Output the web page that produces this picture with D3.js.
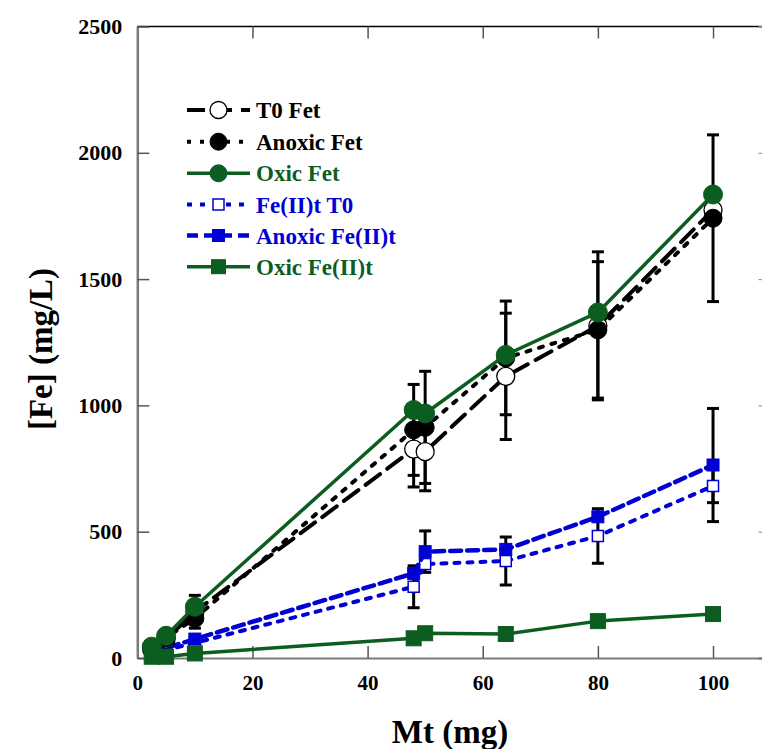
<!DOCTYPE html>
<html>
<head>
<meta charset="utf-8">
<script src="https://cdn.jsdelivr.net/npm/d3@7"></script>
<style>
  html, body { margin: 0; padding: 0; background: #fff; }
  svg { display: block; }
</style>
</head>
<body>
<svg id="chart" width="762" height="749"></svg>
<script>
// ---- data ----
const mt = [2.5, 5, 10, 48, 50, 64, 80, 100];

const t0Fet       = [35, 75, 183, 827, 817, 1115, 1315, 1774];
const t0FetErr    = [null, null, 65, 150, 155, 250, 293, null];
const anoxicFet   = [40, 80, 157, 903, 913, 1188, 1299, 1741];
const anoxicFetErr= [null, null, null, 180, 222, 225, 270, 330];
const oxicFet     = [45, 88, 203, 982, 968, 1200, 1368, 1835];

const t0Fe2       = [20, 32, 60, 282, 372, 384, 483, 681];
const t0Fe2Err    = [null, null, null, 83, null, 95, 108, 66];
const anoxicFe2   = [25, 40, 75, 335, 421, 430, 559, 764];
const anoxicFe2Err= [null, null, null, null, 82, null, null, 224];
const oxicFe2     = [5, 5, 18, 78, 98, 95, 146, 174];

const xTicks = [0, 20, 40, 60, 80, 100];
const yTicks = [0, 500, 1000, 1500, 2000, 2500];

const seriesNames = ["T0 Fet", "Anoxic Fet", "Oxic Fet", "Fe(II)t T0", "Anoxic Fe(II)t", "Oxic Fe(II)t"];

// ---- styling ----
const GREEN = "#0b5e1f";
const BLUE = "#0000d4";
const FONT = "Liberation Serif";

const series = [
  { name: seriesNames[0], y: t0Fet, err: t0FetErr, color: "#000", textColor: "#000", width: 4, dash: "18,9", marker: "circle", fill: "#fff", stroke: "#000", size: 9 },
  { name: seriesNames[1], y: anoxicFet, err: anoxicFetErr, color: "#000", textColor: "#000", width: 4, dash: "4,9", marker: "circle", fill: "#000", stroke: "#000", size: 9 },
  { name: seriesNames[2], y: oxicFet, err: null, color: GREEN, textColor: GREEN, width: 3.5, dash: null, marker: "circle", fill: GREEN, stroke: GREEN, size: 9.5 },
  { name: seriesNames[3], y: t0Fe2, err: t0Fe2Err, color: BLUE, textColor: BLUE, width: 4, dash: "5,8", marker: "square", fill: "#fff", stroke: BLUE, size: 11 },
  { name: seriesNames[4], y: anoxicFe2, err: anoxicFe2Err, color: BLUE, textColor: BLUE, width: 4.5, dash: "11,6", marker: "square", fill: BLUE, stroke: BLUE, size: 12 },
  { name: seriesNames[5], y: oxicFe2, err: null, color: GREEN, textColor: GREEN, width: 3.5, dash: null, marker: "square", fill: GREEN, stroke: GREEN, size: 15 }
];

const svg = d3.select("#chart");
const x = d3.scaleLinear().domain([0, 110]).range([137.3, 770.6]);
const y = d3.scaleLinear().domain([0, 2500]).range([658, 26.5]);

// frame: top line
svg.append("line").attr("x1", x(0)).attr("x2", 762).attr("y1", y(2500)).attr("y2", y(2500))
  .attr("stroke", "#000").attr("stroke-width", 1.5);

// top ticks
svg.append("g").attr("transform", `translate(0,${y(2500)})`)
  .call(d3.axisTop(x).tickValues(xTicks).tickSize(-12).tickFormat(""))
  .call(g => g.select(".domain").remove())
  .call(g => g.selectAll("line").attr("stroke", "#555").attr("stroke-width", 1.5));

// right ticks (axis line off canvas)
svg.append("g").attr("transform", `translate(${x(110)},0)`)
  .call(d3.axisRight(y).tickValues(yTicks).tickSize(-12).tickFormat(""))
  .call(g => g.select(".domain").attr("stroke", "#777").attr("stroke-width", 2))
  .call(g => g.selectAll("line").attr("stroke", "#999").attr("stroke-width", 1.2));

// bottom axis
const xAxis = svg.append("g").attr("transform", `translate(0,${y(0)})`)
  .call(d3.axisBottom(x).tickValues(xTicks).tickFormat(d3.format("d")).tickSize(-12).tickPadding(17).tickSizeOuter(0));
xAxis.attr("font-family", FONT).attr("font-weight", "bold").attr("font-size", 21);
xAxis.select(".domain").attr("stroke", "#7a7a7a").attr("stroke-width", 2);
xAxis.selectAll(".tick line").attr("stroke", "#555").attr("stroke-width", 1.5);
xAxis.selectAll("text").attr("font-family", FONT).attr("font-weight", "bold").attr("font-size", 21).attr("fill", "#000");

// left axis
const yAxis = svg.append("g").attr("transform", `translate(${x(0)},0)`)
  .call(d3.axisLeft(y).tickValues(yTicks).tickFormat(d3.format("d")).tickSize(-12).tickPadding(15).tickSizeOuter(0));
yAxis.attr("font-family", FONT).attr("font-weight", "bold").attr("font-size", 21);
yAxis.select(".domain").attr("stroke", "#7a7a7a").attr("stroke-width", 2.5);
yAxis.selectAll(".tick line").attr("stroke", "#555").attr("stroke-width", 1.5);
yAxis.selectAll("text").attr("font-family", FONT).attr("font-weight", "bold").attr("font-size", 22).attr("fill", "#000");

// axis titles
svg.append("text").attr("x", 450).attr("y", 743).attr("text-anchor", "middle")
  .attr("font-family", FONT).attr("font-weight", "bold").attr("font-size", 33).attr("fill", "#000").text("Mt (mg)");
svg.append("text").attr("transform", "translate(52,349) rotate(-90)").attr("text-anchor", "middle")
  .attr("font-family", FONT).attr("font-weight", "bold").attr("font-size", 33).attr("fill", "#000").text("[Fe] (mg/L)");

// ---- plot ----
const plot = svg.append("g");
const line = d3.line().x(d => x(d[0])).y(d => y(d[1]));

function drawMarker(g, s, cx, cy) {
  if (s.marker === "circle") {
    g.append("circle").attr("cx", cx).attr("cy", cy).attr("r", s.size)
      .attr("fill", s.fill).attr("stroke", s.stroke).attr("stroke-width", s.fill === "#fff" ? 1.3 : 1);
  } else {
    g.append("rect").attr("x", cx - s.size / 2).attr("y", cy - s.size / 2)
      .attr("width", s.size).attr("height", s.size)
      .attr("fill", s.fill).attr("stroke", s.stroke).attr("stroke-width", s.fill === "#fff" ? 1.5 : 1);
  }
}

function drawErrors(s) {
  if (!s.err) return;
  const g = plot.append("g").attr("stroke", "#000").attr("stroke-width", 3);
  mt.forEach((xv, i) => {
    const e = s.err[i];
    if (e == null) return;
    const cx = x(xv), y1 = y(s.y[i] + e), y2 = y(s.y[i] - e);
    g.append("line").attr("x1", cx).attr("x2", cx).attr("y1", y1).attr("y2", y2);
    g.append("line").attr("x1", cx - 6).attr("x2", cx + 6).attr("y1", y1).attr("y2", y1);
    g.append("line").attr("x1", cx - 6).attr("x2", cx + 6).attr("y1", y2).attr("y2", y2);
  });
}

function drawSeries(s) {
  const pts = mt.map((xv, i) => [xv, s.y[i]]);
  plot.append("path").datum(pts).attr("d", line).attr("fill", "none")
    .attr("stroke", s.color).attr("stroke-width", s.width)
    .attr("stroke-dasharray", s.dash).attr("stroke-linecap", s.dash ? "round" : "butt")
    .attr("stroke-linejoin", "round");
  const g = plot.append("g");
  pts.forEach(p => drawMarker(g, s, x(p[0]), y(p[1])));
}

series.forEach(drawErrors);
[series[3], series[4], series[0], series[1], series[2], series[5]].forEach(drawSeries);

// ---- legend ----
const legend = svg.append("g");
const rowY = [110, 141.7, 173.3, 204.5, 235.5, 266.7];
series.forEach((s, i) => {
  const ry = rowY[i];
  legend.append("line").attr("x1", 187).attr("x2", 250).attr("y1", ry).attr("y2", ry)
    .attr("stroke", s.color).attr("stroke-width", s.width).attr("stroke-dasharray", s.dash);
  const ms = Object.assign({}, s, { size: s.marker === "circle" ? 8.5 : Math.min(s.size, 14) });
  drawMarker(legend, ms, 218.5, ry);
  legend.append("text").attr("x", 256).attr("y", ry + 8).attr("font-size", 23)
    .attr("font-family", FONT).attr("font-weight", "bold").attr("fill", s.textColor).text(s.name);
});
</script>
</body>
</html>
